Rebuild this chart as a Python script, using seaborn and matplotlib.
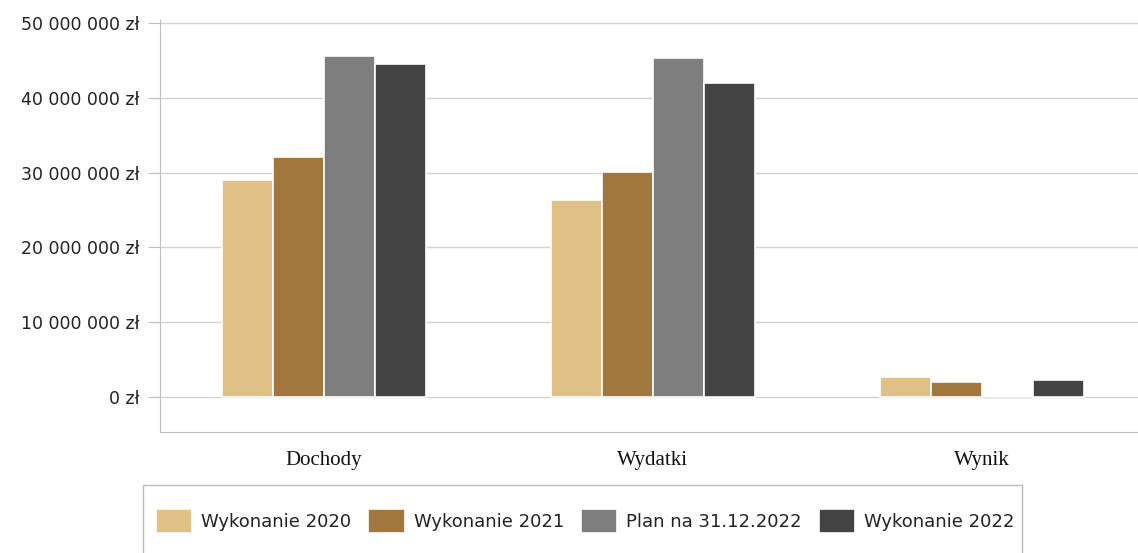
import matplotlib
matplotlib.use('Agg')
import matplotlib.pyplot as plt
import matplotlib.ticker as mticker
from matplotlib.patches import Rectangle
import pandas as pd
import seaborn as sns

# Dane (zł)
kategorie = ['Dochody', 'Wydatki', 'Wynik']
serie = ['Wykonanie 2020', 'Wykonanie 2021', 'Plan na 31.12.2022', 'Wykonanie 2022']
wykonanie_2020 = [29_000_000, 26_300_000, 2_700_000]
wykonanie_2021 = [32_100_000, 30_100_000, 2_000_000]
plan_2022 = [45_600_000, 45_300_000, -300_000]
wykonanie_2022 = [44_500_000, 42_000_000, 2_300_000]
kolory = ['#dfc186', '#a2773d', '#7e7e7e', '#444444']

rows = []
for s, vals in zip(serie, [wykonanie_2020, wykonanie_2021, plan_2022, wykonanie_2022]):
    for k, v in zip(kategorie, vals):
        rows.append({'Kategoria': k, 'Seria': s, 'Wartosc': v})
df = pd.DataFrame(rows)

sns.set_style('white')
plt.rcParams['font.family'] = ['DejaVu Sans']

W, H = 1138, 553
fig = plt.figure(figsize=(W / 100, H / 100), dpi=100)
ax = fig.add_axes([160 / W, 1 - 432 / H, 1 - 160 / W, (432 - 20) / H])

sns.barplot(data=df, x='Kategoria', y='Wartosc', hue='Seria', hue_order=serie,
            palette=kolory, width=0.62, edgecolor='white', linewidth=1.2,
            saturation=1, errorbar=None, ax=ax, legend=True)

ax.set_ylim(-4_700_000, 50_400_000)
ax.set_xlim(-0.498, 2.474)
ax.set_yticks(range(0, 50_000_001, 10_000_000))
ax.yaxis.set_major_formatter(mticker.FuncFormatter(
    lambda v, p: '{:,.0f} zł'.format(v).replace(',', ' ')))
ax.yaxis.grid(True, color='#d2d2d2', linewidth=1)
ax.set_axisbelow(True)
ax.set_xlabel('')
ax.set_ylabel('')
for side in ['top', 'right']:
    ax.spines[side].set_visible(False)
for side in ['left', 'bottom']:
    ax.spines[side].set_color('#bdbdbd')
ax.tick_params(axis='y', labelsize=12.5, colors='#bdbdbd', labelcolor='#222222',
               length=9, pad=6, left=True)
ax.tick_params(axis='x', labelsize=15, length=0, pad=14)
for lab in ax.get_xticklabels():
    lab.set_fontfamily('Liberation Serif')
    lab.set_color('#111111')

# legenda pod wykresem, z ramką ucietą u dołu
h, l = ax.get_legend_handles_labels()
ax.get_legend().remove()
fig.legend(h, l, loc='center left', bbox_to_anchor=(147 / W, 1 - 521 / H),
           ncol=4, fontsize=13, frameon=False, borderpad=0,
           handlelength=2.0, handleheight=1.75, handletextpad=0.5,
           columnspacing=0.95, labelcolor='#222222')
fig.patches.append(Rectangle((143 / W, -0.05), (1022 - 143) / W, 0.05 + 1 - 485 / H,
                             transform=fig.transFigure, fill=False,
                             edgecolor='#bbbbbb', linewidth=1))

fig.savefig('out.png', dpi=100)
